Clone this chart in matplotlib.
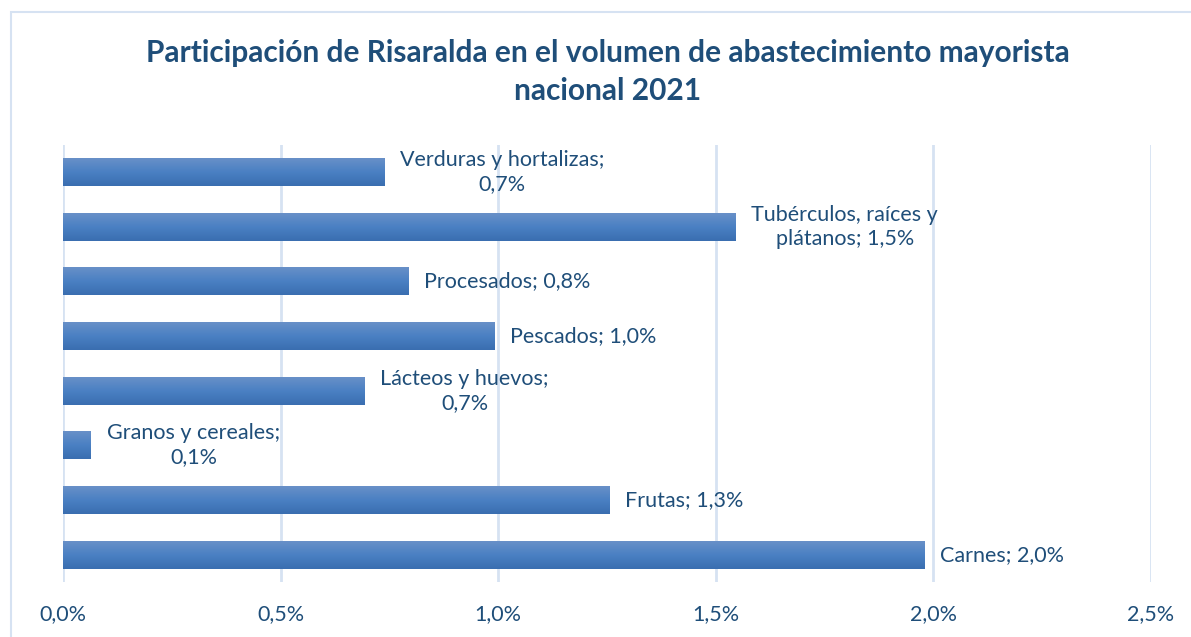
import numpy as np
import matplotlib.pyplot as plt
from matplotlib.patches import Rectangle
from matplotlib.colors import LinearSegmentedColormap

# data (bottom to top, as in the chart)
categories = ['Carnes', 'Frutas', 'Granos y cereales', 'Lácteos y huevos',
              'Pescados', 'Procesados', 'Tubérculos, raíces y\nplátanos', 'Verduras y hortalizas']
values = [1.979, 1.255, 0.064, 0.692, 0.991, 0.793, 1.545, 0.738]  # percent
label_sep = ['; ', '; ', ';\n', ';\n', '; ', '; ', '; ', ';\n']
xticks = [0.0, 0.5, 1.0, 1.5, 2.0, 2.5]

title = 'Participación de Risaralda en el volumen de abastecimiento mayorista\nnacional 2021'

plt.rcParams['font.family'] = ['Lato', 'DejaVu Sans']
txt_col = '#1F4E79'
grid_col = '#D6E2F2'

fig = plt.figure(figsize=(11.91, 6.37), dpi=100)
ax = fig.add_axes([63 / 1191, 1 - 582 / 637, (1151 - 63) / 1191, (582 - 145) / 637])

# frame around chart
fig.patches.append(Rectangle((11 / 1191, -0.1), 1.2, 1.1 - 12 / 637, transform=fig.transFigure,
                             fill=False, edgecolor=grid_col, linewidth=1.5))

grad = LinearSegmentedColormap.from_list('g', ['#3A6EB0', '#4A80C3', '#6890C8'])
gimg = np.linspace(0, 1, 64).reshape(-1, 1)
h = 0.51
y = np.arange(len(categories))
for yi, v in zip(y, values):
    ax.imshow(gimg, cmap=grad, aspect='auto', origin='lower',
              extent=[0, v, yi - h / 2, yi + h / 2], zorder=3, interpolation='bilinear')

for yi, v, c, s in zip(y, values, categories, label_sep):
    lab = '%s%s%s%%' % (c, s, ('%.1f' % v).replace('.', ','))
    ax.annotate(lab, (v, yi), xytext=(16, 0), textcoords='offset pixels',
                ha='left', va='center', multialignment='center', fontsize=15.5,
                color=txt_col, linespacing=1.25)

ax.set_xlim(0, 2.5)
ax.set_ylim(-0.5, len(categories) - 0.5)
ax.set_xticks(xticks)
ax.set_xticklabels([('%.1f%%' % t).replace('.', ',') for t in xticks], fontsize=15.5, color=txt_col)
ax.set_yticks([])
ax.tick_params(axis='x', length=0, pad=16)
ax.grid(axis='x', color=grid_col, linewidth=2)
ax.set_axisbelow(True)
for sp in ax.spines.values():
    sp.set_visible(False)

fig.text(608 / 1191, 1 - 72 / 637, title, ha='center', va='center', fontsize=21.5,
         fontweight='bold', color=txt_col, linespacing=1.45)

fig.savefig('out.png', dpi=100)
